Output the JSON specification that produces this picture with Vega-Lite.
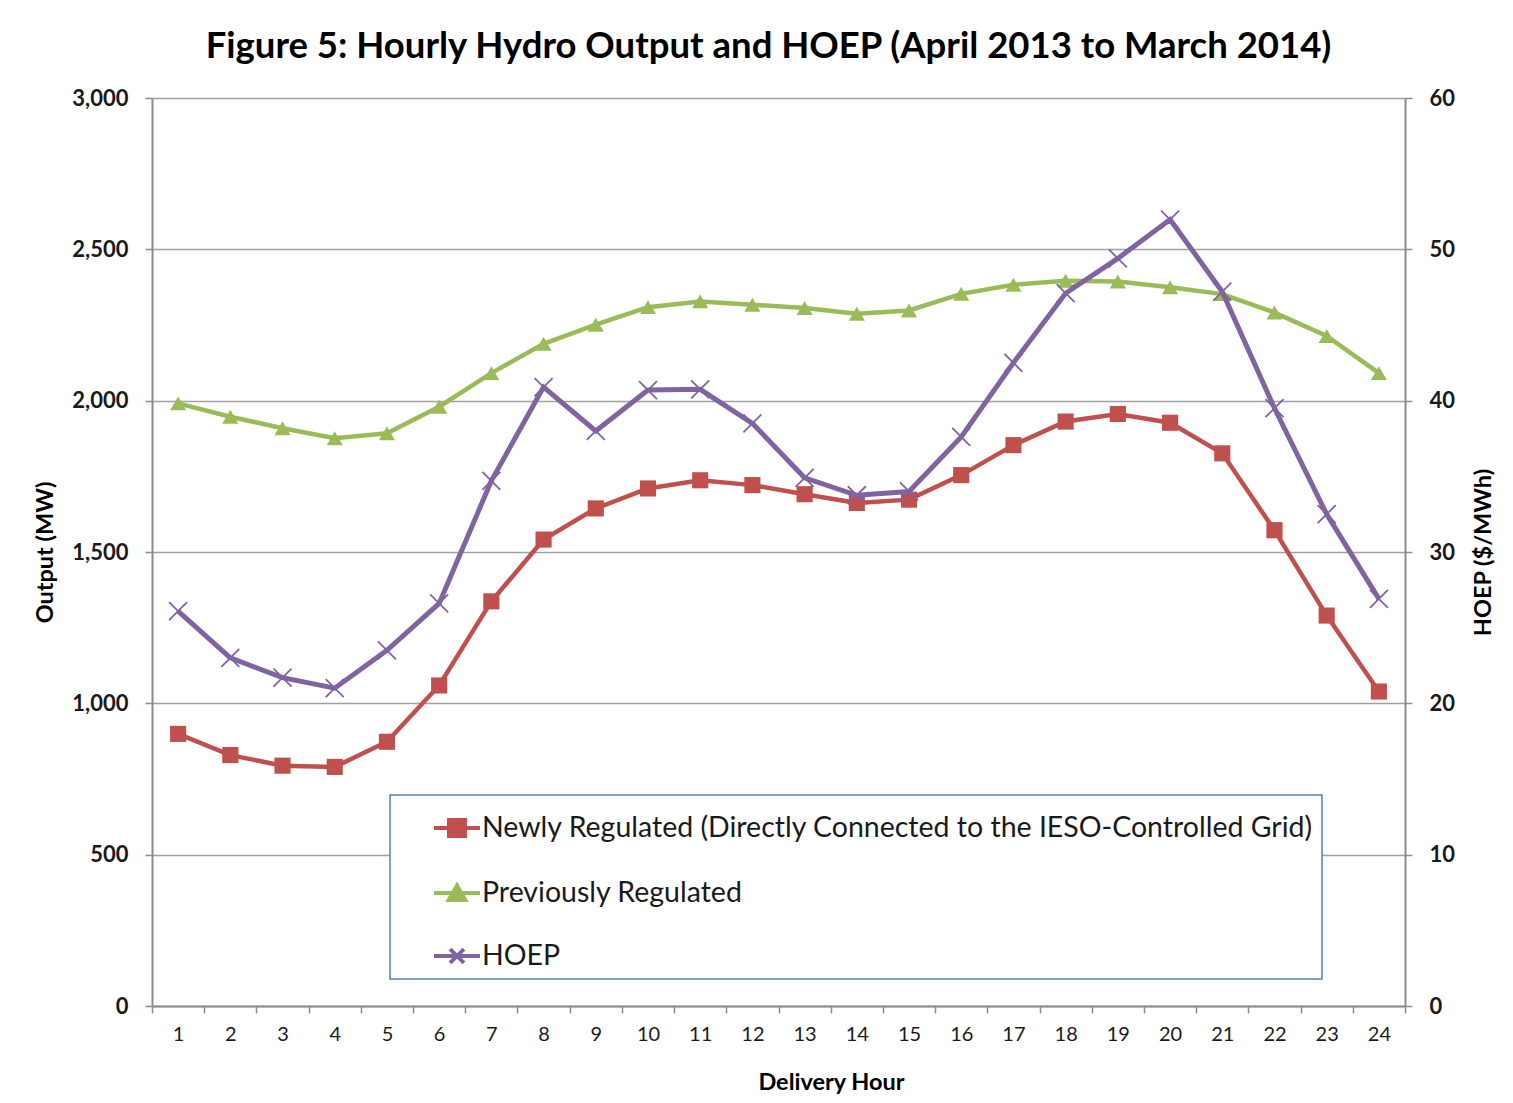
{
  "$schema": "https://vega.github.io/schema/vega-lite/v6.json",
  "width": 1253,
  "height": 908,
  "autosize": {"type": "none"},
  "padding": {"left": 152, "top": 98, "right": 108, "bottom": 97},
  "background": "white",
  "title": {
    "text": "Figure 5: Hourly Hydro Output and HOEP (April 2013 to March 2014)",
    "font": "Lato",
    "fontSize": 36.5,
    "fontWeight": "bold",
    "color": "#000000",
    "anchor": "middle",
    "frame": "group",
    "dx": -10,
    "offset": 22
  },
  "config": {
    "view": {"stroke": null},
    "font": "Lato"
  },
  "data": {
    "values": [
      {"hour": 1, "series": "Newly Regulated (Directly Connected to the IESO-Controlled Grid)", "value": 899},
      {"hour": 2, "series": "Newly Regulated (Directly Connected to the IESO-Controlled Grid)", "value": 829},
      {"hour": 3, "series": "Newly Regulated (Directly Connected to the IESO-Controlled Grid)", "value": 794},
      {"hour": 4, "series": "Newly Regulated (Directly Connected to the IESO-Controlled Grid)", "value": 790},
      {"hour": 5, "series": "Newly Regulated (Directly Connected to the IESO-Controlled Grid)", "value": 873},
      {"hour": 6, "series": "Newly Regulated (Directly Connected to the IESO-Controlled Grid)", "value": 1059},
      {"hour": 7, "series": "Newly Regulated (Directly Connected to the IESO-Controlled Grid)", "value": 1337},
      {"hour": 8, "series": "Newly Regulated (Directly Connected to the IESO-Controlled Grid)", "value": 1541},
      {"hour": 9, "series": "Newly Regulated (Directly Connected to the IESO-Controlled Grid)", "value": 1644},
      {"hour": 10, "series": "Newly Regulated (Directly Connected to the IESO-Controlled Grid)", "value": 1710},
      {"hour": 11, "series": "Newly Regulated (Directly Connected to the IESO-Controlled Grid)", "value": 1737},
      {"hour": 12, "series": "Newly Regulated (Directly Connected to the IESO-Controlled Grid)", "value": 1721},
      {"hour": 13, "series": "Newly Regulated (Directly Connected to the IESO-Controlled Grid)", "value": 1691},
      {"hour": 14, "series": "Newly Regulated (Directly Connected to the IESO-Controlled Grid)", "value": 1662},
      {"hour": 15, "series": "Newly Regulated (Directly Connected to the IESO-Controlled Grid)", "value": 1673},
      {"hour": 16, "series": "Newly Regulated (Directly Connected to the IESO-Controlled Grid)", "value": 1754},
      {"hour": 17, "series": "Newly Regulated (Directly Connected to the IESO-Controlled Grid)", "value": 1853},
      {"hour": 18, "series": "Newly Regulated (Directly Connected to the IESO-Controlled Grid)", "value": 1931},
      {"hour": 19, "series": "Newly Regulated (Directly Connected to the IESO-Controlled Grid)", "value": 1956},
      {"hour": 20, "series": "Newly Regulated (Directly Connected to the IESO-Controlled Grid)", "value": 1927},
      {"hour": 21, "series": "Newly Regulated (Directly Connected to the IESO-Controlled Grid)", "value": 1826},
      {"hour": 22, "series": "Newly Regulated (Directly Connected to the IESO-Controlled Grid)", "value": 1572},
      {"hour": 23, "series": "Newly Regulated (Directly Connected to the IESO-Controlled Grid)", "value": 1290},
      {"hour": 24, "series": "Newly Regulated (Directly Connected to the IESO-Controlled Grid)", "value": 1039},
      {"hour": 1, "series": "Previously Regulated", "value": 1991},
      {"hour": 2, "series": "Previously Regulated", "value": 1947},
      {"hour": 3, "series": "Previously Regulated", "value": 1909},
      {"hour": 4, "series": "Previously Regulated", "value": 1876},
      {"hour": 5, "series": "Previously Regulated", "value": 1892},
      {"hour": 6, "series": "Previously Regulated", "value": 1980},
      {"hour": 7, "series": "Previously Regulated", "value": 2091},
      {"hour": 8, "series": "Previously Regulated", "value": 2188},
      {"hour": 9, "series": "Previously Regulated", "value": 2251},
      {"hour": 10, "series": "Previously Regulated", "value": 2309},
      {"hour": 11, "series": "Previously Regulated", "value": 2328},
      {"hour": 12, "series": "Previously Regulated", "value": 2317},
      {"hour": 13, "series": "Previously Regulated", "value": 2306},
      {"hour": 14, "series": "Previously Regulated", "value": 2287},
      {"hour": 15, "series": "Previously Regulated", "value": 2298},
      {"hour": 16, "series": "Previously Regulated", "value": 2353},
      {"hour": 17, "series": "Previously Regulated", "value": 2383},
      {"hour": 18, "series": "Previously Regulated", "value": 2396},
      {"hour": 19, "series": "Previously Regulated", "value": 2394},
      {"hour": 20, "series": "Previously Regulated", "value": 2375},
      {"hour": 21, "series": "Previously Regulated", "value": 2352},
      {"hour": 22, "series": "Previously Regulated", "value": 2291},
      {"hour": 23, "series": "Previously Regulated", "value": 2214},
      {"hour": 24, "series": "Previously Regulated", "value": 2091},
      {"hour": 1, "series": "HOEP", "value": 26.1},
      {"hour": 2, "series": "HOEP", "value": 23.0},
      {"hour": 3, "series": "HOEP", "value": 21.7},
      {"hour": 4, "series": "HOEP", "value": 21.0},
      {"hour": 5, "series": "HOEP", "value": 23.5},
      {"hour": 6, "series": "HOEP", "value": 26.6},
      {"hour": 7, "series": "HOEP", "value": 34.7},
      {"hour": 8, "series": "HOEP", "value": 40.9},
      {"hour": 9, "series": "HOEP", "value": 38.0},
      {"hour": 10, "series": "HOEP", "value": 40.7},
      {"hour": 11, "series": "HOEP", "value": 40.75},
      {"hour": 12, "series": "HOEP", "value": 38.5},
      {"hour": 13, "series": "HOEP", "value": 34.9},
      {"hour": 14, "series": "HOEP", "value": 33.75},
      {"hour": 15, "series": "HOEP", "value": 34.0},
      {"hour": 16, "series": "HOEP", "value": 37.6},
      {"hour": 17, "series": "HOEP", "value": 42.5},
      {"hour": 18, "series": "HOEP", "value": 47.1},
      {"hour": 19, "series": "HOEP", "value": 49.4},
      {"hour": 20, "series": "HOEP", "value": 51.97},
      {"hour": 21, "series": "HOEP", "value": 47.2},
      {"hour": 22, "series": "HOEP", "value": 39.5},
      {"hour": 23, "series": "HOEP", "value": 32.5},
      {"hour": 24, "series": "HOEP", "value": 26.9}
    ]
  },
  "encoding": {
    "x": {
      "field": "hour",
      "type": "ordinal",
      "scale": {"paddingInner": 0, "paddingOuter": 0},
      "axis": {
        "title": "Delivery Hour",
        "labelAngle": 0,
        "tickBand": "extent",
        "labelFont": "Lato",
        "labelFontSize": 20,
        "labelColor": "#1a1a1a",
        "labelPadding": 11,
        "tickSize": 7,
        "tickColor": "#8c8c8c",
        "tickWidth": 1.5,
        "domainColor": "#8c8c8c",
        "domainWidth": 2,
        "titleFont": "Lato",
        "titleFontSize": 23.5,
        "titleFontWeight": "bold",
        "titleColor": "#000000",
        "titleX": 679,
        "titleY": 76,
        "titleBaseline": "middle",
        "titleAnchor": null
      }
    }
  },
  "layer": [
    {
      "transform": [{"filter": "datum.series != 'HOEP'"}],
      "encoding": {
        "y": {
          "field": "value",
          "type": "quantitative",
          "scale": {"domain": [0, 3000], "nice": false},
          "axis": {
            "title": "Output (MW)",
            "values": [0, 500, 1000, 1500, 2000, 2500, 3000],
            "format": ",.0f",
            "grid": true,
            "gridColor": "#a0a0a0",
            "gridWidth": 1.5,
            "labelFont": "Lato",
            "labelFontSize": 22,
            "labelFontWeight": "bold",
            "labelColor": "#1a1a1a",
            "labelPadding": 17,
            "tickSize": 7,
            "tickColor": "#8c8c8c",
            "tickWidth": 1.5,
            "domainColor": "#8c8c8c",
            "domainWidth": 2,
            "titleFont": "Lato",
            "titleFontSize": 23.5,
            "titleFontWeight": "bold",
            "titleColor": "#000000",
            "titleAngle": -90,
            "titleX": -107,
            "titleY": 454,
            "titleBaseline": "middle",
            "titleAlign": "center",
            "titleAnchor": null
          }
        },
        "color": {
          "field": "series",
          "type": "nominal",
          "scale": {
            "domain": ["Newly Regulated (Directly Connected to the IESO-Controlled Grid)", "Previously Regulated", "HOEP"],
            "range": ["#C0504D", "#9BBB59", "#8064A2"]
          },
          "legend": {
            "title": null,
            "orient": "none",
            "legendX": 238,
            "legendY": 697,
            "direction": "vertical",
            "strokeColor": "#4F81BD",
            "fillColor": "white",
            "padding": 8,
            "symbolSize": 2116,
            "symbolOffset": 34,
            "symbolStrokeWidth": 4,
            "symbolType": "M-1,0H1M-0.35,-0.35H0.35V0.35H-0.35Z",
            "labelOffset": 0,
            "labelFont": "Lato",
            "labelFontSize": 28.5,
            "labelColor": "#1a1a1a",
            "labelLimit": 2000,
            "rowPadding": 23,
            "encode": {
              "legend": {"update": {"strokeWidth": {"value": 1.5}}},
              "symbols": {
                "update": {
                  "shape": {"signal": "datum.value == 'HOEP' ? 'M-1,0H1M-0.3,-0.3L0.3,0.3M-0.3,0.3L0.3,-0.3' : (datum.value == 'Previously Regulated' ? 'M-1,0H1M-0.36,0.3L0,-0.33L0.36,0.3Z' : 'M-1,0H1M-0.35,-0.35H0.35V0.35H-0.35Z')"},
                  "fill": {"signal": "scale('color', datum.value)"},
                  "stroke": {"signal": "scale('color', datum.value)"},
                  "opacity": {"value": 1},
                  "fillOpacity": {"value": 1}
                }
              }
            }
          }
        }
      },
      "layer": [
        {"mark": {"type": "line", "strokeWidth": 4.5}},
        {
          "transform": [{"filter": "datum.series != 'Previously Regulated'"}],
          "mark": {"type": "point", "filled": true, "opacity": 1, "shape": "square", "size": 260}
        },
        {
          "transform": [{"filter": "datum.series == 'Previously Regulated'"}],
          "mark": {"type": "point", "filled": true, "opacity": 1, "shape": "triangle-up", "size": 260}
        }
      ]
    },
    {
      "transform": [{"filter": "datum.series == 'HOEP'"}],
      "encoding": {
        "y": {
          "field": "value",
          "type": "quantitative",
          "scale": {"domain": [0, 60], "nice": false},
          "axis": {
            "orient": "right",
            "title": "HOEP ($/MWh)",
            "values": [0, 10, 20, 30, 40, 50, 60],
            "grid": false,
            "labelFont": "Lato",
            "labelFontSize": 22,
            "labelFontWeight": "bold",
            "labelColor": "#1a1a1a",
            "labelPadding": 17,
            "tickSize": 7,
            "tickColor": "#8c8c8c",
            "tickWidth": 1.5,
            "domainColor": "#8c8c8c",
            "domainWidth": 2,
            "titleFont": "Lato",
            "titleFontSize": 23.5,
            "titleFontWeight": "bold",
            "titleColor": "#000000",
            "titleAngle": -90,
            "titleX": 78,
            "titleY": 454,
            "titleBaseline": "middle",
            "titleAlign": "center",
            "titleAnchor": null
          }
        },
        "color": {"field": "series", "type": "nominal"}
      },
      "layer": [
        {"mark": {"type": "line", "strokeWidth": 5}},
        {
          "mark": {"type": "point", "filled": false, "opacity": 1, "strokeWidth": 1.8, "shape": "M-1,-1L1,1M-1,1L1,-1", "size": 324}
        }
      ]
    }
  ],
  "resolve": {"scale": {"y": "independent"}}
}
